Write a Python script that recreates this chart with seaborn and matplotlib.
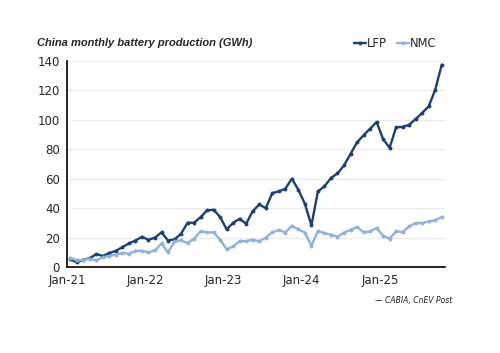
import matplotlib
matplotlib.use("Agg")
import matplotlib.pyplot as plt
import seaborn as sns
import pandas as pd
import numpy as np

months = pd.date_range("2021-01-01", "2025-10-01", freq="MS").strftime("%b-%y").tolist()

lfp = [5.2, 3.3, 5.0, 6.0, 8.8, 7.5, 9.5, 11.0, 13.5, 16.0, 18.0, 20.5,
       18.5, 20.0, 23.5, 18.0, 18.8, 22.6, 30.1, 30.1, 33.9, 38.5, 38.9, 33.9,
       25.6, 30.1, 32.8, 29.4, 38.0, 42.5, 40.0, 50.2, 51.4, 53.2, 60.0, 52.5,
       43.0, 28.3, 51.4, 54.8, 60.5, 63.6, 69.0, 76.8, 84.7, 89.5, 94.0, 98.5,
       87.0, 81.0, 95.0, 95.2, 96.7, 100.6, 104.7, 109.2, 120.5, 137.5]
nmc = [6.3, 4.6, 4.9, 5.5, 4.6, 6.5, 7.5, 8.5, 9.5, 9.0, 11.0, 11.0,
       10.0, 11.3, 16.0, 10.0, 17.4, 18.1, 16.3, 19.3, 24.2, 23.5, 23.5, 18.6,
       12.0, 14.0, 17.6, 17.6, 18.5, 17.5, 20.0, 23.5, 25.2, 23.4, 28.0, 25.6,
       23.4, 14.5, 24.5, 23.0, 22.0, 20.6, 23.4, 25.2, 27.2, 23.6, 24.2, 26.5,
       21.3, 19.3, 24.2, 23.8, 27.6, 29.9, 29.9, 31.0, 31.7, 34.0]
series_names = ["LFP", "NMC"]
year_labels = ["Jan-21", "Jan-22", "Jan-23", "Jan-24", "Jan-25"]
y_ticks = [0, 20, 40, 60, 80, 100, 120, 140]

df = pd.DataFrame({
    "idx": list(range(len(months))) * 2,
    "month": months * 2,
    "value": lfp + nmc,
    "series": ["LFP"] * len(lfp) + ["NMC"] * len(nmc),
})

sns.set_style("white")
plt.rcParams['font.family'] = ['DejaVu Sans']

fig = plt.figure(figsize=(5.0, 3.53), dpi=100)
ax = fig.add_axes([0.134, 0.2436, 0.756, 0.5836])

palette = {"LFP": "#1B3F7A", "NMC": "#8DB3E2"}
sns.lineplot(data=df, x="idx", y="value", hue="series", palette=palette,
             hue_order=series_names, marker="o", markersize=2.8, markeredgewidth=0,
             linewidth=1.7, ax=ax, legend=False, zorder=3)

ax.set_xlim(-0.5, len(months) - 0.5)
ax.set_ylim(0, 140)
ax.set_yticks(y_ticks)
ax.set_yticklabels([str(v) for v in y_ticks], fontsize=8.5)
ax.set_xticks([i * 12 - 0.5 for i in range(len(year_labels))])
ax.set_xticklabels(year_labels, fontsize=8.5)
ax.set_xlabel("")
ax.set_ylabel("")
ax.yaxis.grid(True, color="#EBEBEB", linewidth=1.0)
ax.set_axisbelow(True)
for s in ["top", "right"]:
    ax.spines[s].set_visible(False)
for s in ["left", "bottom"]:
    ax.spines[s].set_color("black")
    ax.spines[s].set_linewidth(1.2)
ax.tick_params(axis="both", direction="out", length=3, width=1.0, color="black", pad=2)

fig.text(0.074, 0.877, "China monthly battery production (GWh)", fontsize=8,
         fontweight="bold", fontstyle="italic", ha="left", va="center",
         family=["Liberation Sans", "DejaVu Sans"])

from matplotlib.lines import Line2D
handles = [Line2D([0], [0], color=palette[n], lw=1.7, marker="o", markersize=2.8,
                  markeredgewidth=0) for n in series_names]
fig.legend(handles, series_names, loc="center right", bbox_to_anchor=(0.884, 0.877),
           ncol=2, frameon=False, fontsize=8.3, handlelength=1.0, handletextpad=0.1,
           columnspacing=0.9, borderpad=0)

fig.text(0.905, 0.148, "\u2014 CABIA, CnEV Post", fontsize=5.5, fontstyle="italic",
         ha="right", va="center", color="#222222")

fig.savefig("out.png", dpi=100)
